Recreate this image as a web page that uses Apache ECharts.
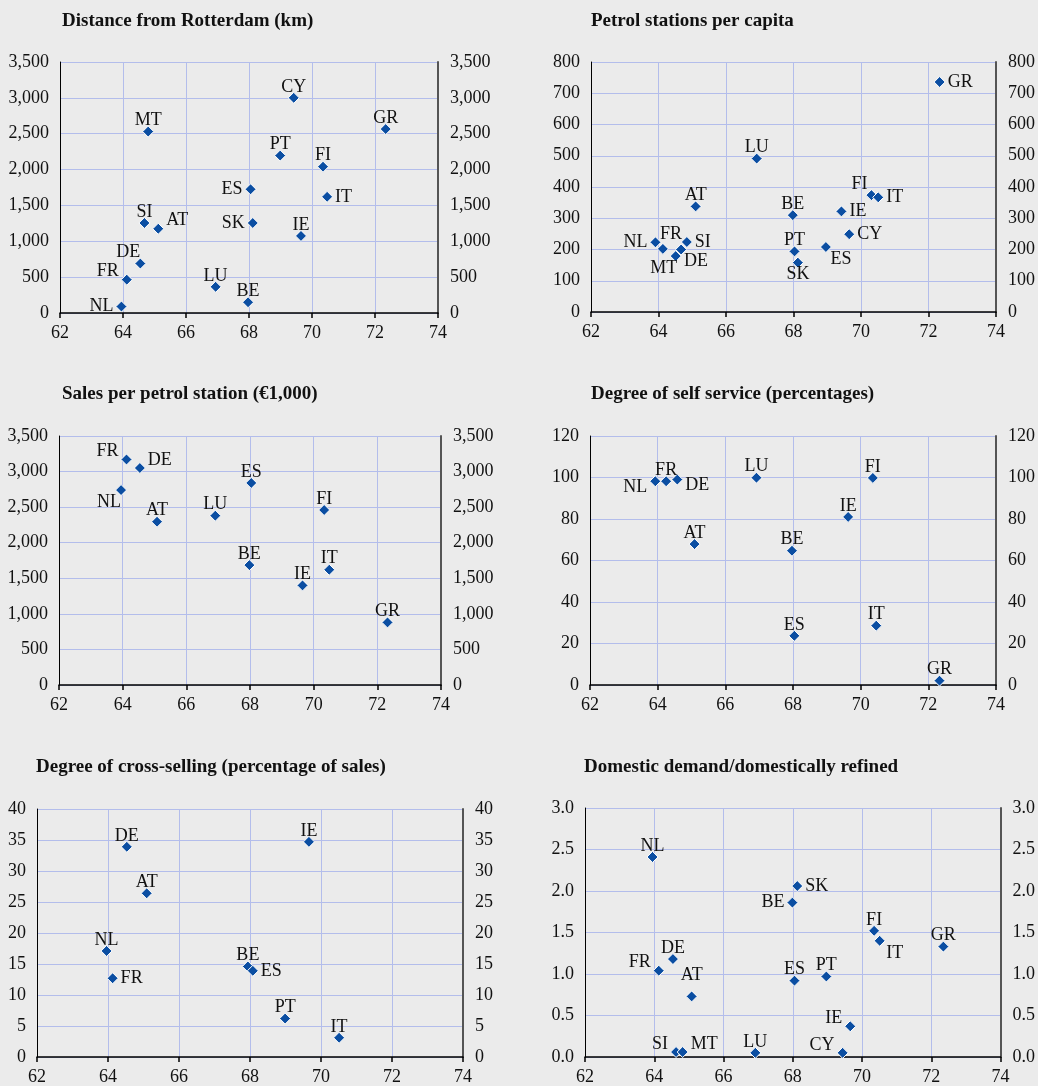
<!DOCTYPE html>
<html>
<head>
<meta charset="utf-8">
<script src="https://cdn.jsdelivr.net/npm/echarts@6/dist/echarts.min.js"></script>
<style>
  html, body { margin: 0; padding: 0; background: #ebebeb; }
  #chart { width: 1038px; height: 1086px; }
</style>
</head>
<body>
<div id="chart"></div>
<script>
// common x axis ticks
const xTicks = [62, 64, 66, 68, 70, 72, 74];

// panel 1: distance from Rotterdam (km)
const names1 = ['NL','FR','DE','SI','MT','AT','LU','BE','ES','SK','PT','CY','IE','FI','IT','GR'];
const x1 = [63.95,64.12,64.55,64.68,64.80,65.12,66.94,67.97,68.05,68.12,68.99,69.42,69.65,70.35,70.48,72.34];
const y1 = [90,465,690,1255,2530,1175,365,150,1725,1255,2195,3000,1075,2040,1620,2565];
const pos1 = ['l','lu','tl','t','t','ru','t','t','l','l','t','t','t','t','r','t'];

// panel 2: petrol stations per capita
const names2 = ['NL','FR','MT','DE','SI','AT','LU','BE','PT','SK','ES','IE','CY','FI','IT','GR'];
const x2 = [63.91,64.13,64.51,64.67,64.84,65.10,66.91,67.98,68.03,68.13,68.96,69.42,69.65,70.31,70.51,72.33];
const y2 = [223,202,179,200,224,338,491,310,194,158,208,322,249,374,367,736];
const pos2 = ['l','tr','bl','br','r','t','t','t','t','b','br','r','r','tl','r','r'];

// panel 3: sales per petrol station (EUR 1,000)
const names3 = ['NL','FR','DE','AT','LU','BE','ES','IE','FI','IT','GR'];
const x3 = [63.95,64.12,64.54,65.08,66.91,67.98,68.04,69.65,70.33,70.49,72.32];
const y3 = [2740,3170,3050,2295,2380,1685,2840,1400,2460,1620,880];
const pos3 = ['bl','lu','ru','t','t','t','t','t','t','t','t'];

// panel 4: degree of self service
const names4 = ['NL','FR','DE','AT','LU','BE','ES','IE','FI','IT','GR'];
const x4 = [63.93,64.25,64.58,65.09,66.92,67.97,68.04,69.63,70.36,70.46,72.33];
const y4 = [98.2,98.2,99.0,67.9,99.9,64.7,23.7,81.0,99.8,28.6,2.1];
const pos4 = ['ld','t','rd','t','t','t','t','t','t','t','t'];

// panel 5: degree of cross-selling
const names5 = ['NL','FR','DE','AT','BE','ES','PT','IE','IT'];
const x5 = [63.96,64.13,64.53,65.09,67.94,68.08,68.99,69.66,70.51];
const y5 = [17.1,12.7,33.9,26.4,14.6,13.9,6.2,34.7,3.1];
const pos5 = ['t','r','t','t','t','r','t','t','t'];

// panel 6: domestic demand / domestically refined
const names6 = ['NL','FR','DE','SI','MT','AT','LU','BE','ES','SK','PT','CY','IE','FI','IT','GR'];
const x6 = [63.95,64.13,64.54,64.63,64.82,65.08,66.92,67.99,68.05,68.13,68.97,69.44,69.66,70.35,70.51,72.35];
const y6 = [2.41,1.04,1.18,0.06,0.06,0.73,0.05,1.86,0.92,2.06,0.97,0.05,0.37,1.52,1.40,1.33];
const pos6 = ['t','lu','t','lu','ru','tt','t','l','t','r','t','lu','lu','t','br','t'];

const titles = [
  'Distance from Rotterdam (km)',
  'Petrol stations per capita',
  'Sales per petrol station (€1,000)',
  'Degree of self service (percentages)',
  'Degree of cross-selling (percentage of sales)',
  'Domestic demand/domestically refined'
];
const yMax = [3500, 800, 3500, 120, 40, 3];
const yStep = [500, 100, 500, 20, 5, 0.5];

const FONT = 'Liberation Serif';
const INK = '#111111';
const GRID_LINE = '#b3bdeb';

// label placements
const place = {
  t:  { position: 'top', distance: -4 },
  tt: { position: 'top', distance: 6 },
  b:  { position: 'bottom', distance: -3 },
  l:  { position: 'left', distance: 2 },
  r:  { position: 'right', distance: 2 },
  lu: { position: 'left', distance: 2, offset: [0, -8] },
  ru: { position: 'right', distance: 2, offset: [0, -8] },
  ld: { position: 'left', distance: 2, offset: [0, 6] },
  rd: { position: 'right', distance: 2, offset: [0, 6] },
  tl: { position: 'top', distance: -4, offset: [-12, 0] },
  tr: { position: 'top', distance: 0, offset: [8, 0] },
  bl: { position: 'bottom', distance: -3, offset: [-12, 0] },
  br: { position: 'bottom', distance: -3, offset: [15, 0] }
};

const panels = [
  { names: names1, xs: x1, ys: y1, pos: pos1 },
  { names: names2, xs: x2, ys: y2, pos: pos2 },
  { names: names3, xs: x3, ys: y3, pos: pos3 },
  { names: names4, xs: x4, ys: y4, pos: pos4 },
  { names: names5, xs: x5, ys: y5, pos: pos5 },
  { names: names6, xs: x6, ys: y6, pos: pos6 }
];

const grids = [
  { left: 60, top: 62, width: 378, height: 251 },
  { left: 591, top: 62, width: 405, height: 250 },
  { left: 59, top: 436, width: 382, height: 249 },
  { left: 590, top: 436, width: 409, height: 249 },
  { left: 37, top: 809, width: 426, height: 250 },
  { left: 585, top: 808, width: 419, height: 250 }
];
const titlePos = [
  { left: 62, top: 12 }, { left: 591, top: 12 },
  { left: 62, top: 385 }, { left: 591, top: 385 },
  { left: 36, top: 758 }, { left: 584, top: 758 }
];

function fmtY(i) {
  return function (v) {
    if (i === 5) return v.toFixed(1);
    return v.toLocaleString('en-US');
  };
}

let option = {
  backgroundColor: '#ebebeb',
  animation: false,
  title: [],
  grid: [],
  xAxis: [],
  yAxis: [],
  series: []
};

panels.forEach((p, i) => {
  option.title.push({
    text: titles[i],
    left: titlePos[i].left,
    top: titlePos[i].top,
    padding: 0,
    textStyle: { fontFamily: FONT, fontWeight: 'bold', fontSize: 19, color: INK }
  });
  option.grid.push(Object.assign({ containLabel: false }, grids[i]));
  option.xAxis.push({
    type: 'value',
    gridIndex: i,
    min: xTicks[0],
    max: xTicks[xTicks.length - 1],
    interval: 2,
    axisLine: { show: true, onZero: false, lineStyle: { color: '#000', width: 1.5 } },
    axisTick: { show: true, length: 5, lineStyle: { color: '#000', width: 1.5 } },
    axisLabel: { fontFamily: FONT, fontSize: 18, color: INK, margin: 11 },
    splitLine: { show: true, lineStyle: { color: GRID_LINE, width: 1 } }
  });
  const yBase = {
    type: 'value',
    gridIndex: i,
    min: 0,
    max: yMax[i],
    interval: yStep[i],
    axisTick: { show: false },
    axisLabel: { fontFamily: FONT, fontSize: 18, color: INK, formatter: fmtY(i) }
  };
  option.yAxis.push(Object.assign({}, yBase, {
    position: 'left',
    axisLine: { show: true, onZero: false, lineStyle: { color: '#000', width: 1 } },
    axisLabel: Object.assign({}, yBase.axisLabel, { margin: 11 }),
    splitLine: { show: true, lineStyle: { color: GRID_LINE, width: 1 } }
  }));
  option.yAxis.push(Object.assign({}, yBase, {
    position: 'right',
    axisLine: { show: true, onZero: false, lineStyle: { color: '#555', width: 2 } },
    axisLabel: Object.assign({}, yBase.axisLabel, { margin: 12 }),
    splitLine: { show: false }
  }));

  const data = p.names.map((n, k) => ({
    name: n,
    value: [p.xs[k], p.ys[k]],
    label: place[p.pos[k]]
  }));
  option.series.push({
    type: 'scatter',
    xAxisIndex: i,
    yAxisIndex: i * 2,
    symbol: 'diamond',
    symbolSize: 11,
    itemStyle: { color: '#0b4ea2', borderColor: '#ffffff', borderWidth: 1, opacity: 1 },
    label: {
      show: true,
      formatter: '{b}',
      fontFamily: FONT,
      fontSize: 18,
      color: INK
    },
    data: data
  });
});

let myChart = echarts.init(document.getElementById('chart'));
myChart.setOption(option);
</script>
</body>
</html>
